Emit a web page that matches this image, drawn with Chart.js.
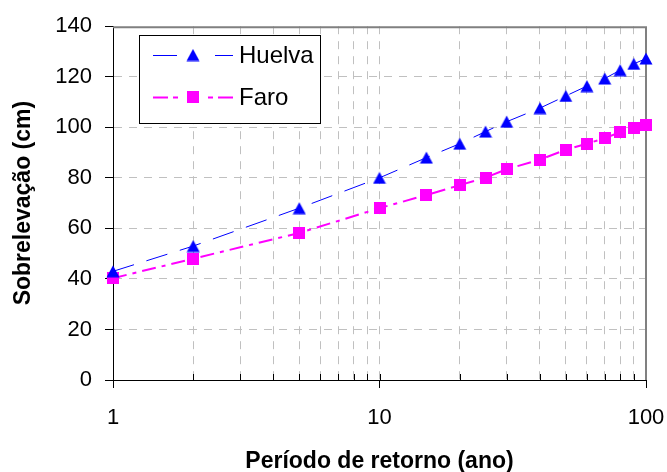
<!DOCTYPE html>
<html>
<head>
<meta charset="utf-8">
<script src="https://cdn.jsdelivr.net/npm/chart.js@4.4.0/dist/chart.umd.min.js"></script>
<style>
  html, body { margin: 0; padding: 0; background: #fff; }
  #wrap { width: 667px; height: 472px; }
</style>
</head>
<body>
<div id="wrap"><canvas id="chart" width="667" height="472"></canvas></div>
<script>
const returnPeriods = [1, 2, 5, 10, 15, 20, 25, 30, 40, 50, 60, 70, 80, 90, 100];
const huelva = [43, 53, 68, 80, 88, 93.5, 98.3, 102.2, 107.6, 112.4, 116.3, 119.3, 122.6, 125.1, 127.2];
const faro = [40.3, 48, 58.2, 68, 73.2, 77.1, 80.1, 83.4, 87.2, 91.1, 93.5, 95.7, 98, 99.7, 101];
const seriesNames = ['Huelva', 'Faro'];
const xGridValues = [1, 2, 3, 4, 5, 6, 7, 8, 9, 10, 20, 30, 40, 50, 60, 70, 80, 90, 100];
const xLabelValues = [1, 10, 100];
const xTitle = 'Período de retorno (ano)';
const yTitle = 'Sobrelevação (cm)';

const FONT = '"Liberation Sans", Arial, sans-serif';
Chart.defaults.font.family = FONT;
Chart.defaults.color = '#000';

// markers drawn like Excel: centered in their box
function makeTriangle(color) {
  const c = document.createElement('canvas');
  c.width = 14; c.height = 13;
  const g = c.getContext('2d');
  g.fillStyle = color;
  g.beginPath();
  g.moveTo(7, 0.5);
  g.lineTo(13.5, 12.5);
  g.lineTo(0.5, 12.5);
  g.closePath();
  g.fill();
  return c;
}
function makeSquare(color) {
  const c = document.createElement('canvas');
  c.width = 12; c.height = 12;
  const g = c.getContext('2d');
  g.fillStyle = color;
  g.fillRect(0, 0, 12, 12);
  return c;
}

const triangle = makeTriangle('#0000ff');
const square = makeSquare('#ff00ff');
const legendDash = [[24, 38], [15, 5, 5, 30, 5, 5]];

const toPoints = ys => ys.map((y, i) => ({ x: returnPeriods[i], y: y }));

const framePlugin = {
  id: 'frame',
  beforeDatasetsDraw(chart) {
    const { ctx, chartArea: a, scales } = chart;
    ctx.save();
    // minor ticks pointing inward on the x axis
    ctx.strokeStyle = '#000';
    ctx.lineWidth = 1;
    xGridValues.forEach(v => {
      if (v === 1) return;
      const px = Math.round(scales.x.getPixelForValue(v)) + 0.5;
      ctx.beginPath();
      ctx.moveTo(px, a.bottom);
      ctx.lineTo(px, a.bottom - 6);
      ctx.stroke();
    });
    // gray top and right border
    ctx.strokeStyle = '#808080';
    ctx.lineWidth = 2;
    ctx.beginPath();
    ctx.moveTo(a.left, a.top + 1);
    ctx.lineTo(a.right, a.top + 1);
    ctx.lineTo(a.right, a.bottom);
    ctx.stroke();
    ctx.restore();
  }
};

const legendPlugin = {
  id: 'boxLegend',
  afterDatasetsDraw(chart) {
    const ctx = chart.ctx;
    ctx.save();
    ctx.fillStyle = '#fff';
    ctx.strokeStyle = '#000';
    ctx.lineWidth = 1;
    ctx.fillRect(139.5, 35.5, 181, 88);
    ctx.strokeRect(139.5, 35.5, 181, 88);
    const rows = [55, 97];
    chart.data.datasets.forEach((ds, i) => {
      const y = rows[i] + 0.5;
      ctx.setLineDash(legendDash[i]);
      ctx.strokeStyle = ds.borderColor;
      ctx.lineWidth = ds.borderWidth;
      ctx.beginPath();
      ctx.moveTo(153, y);
      ctx.lineTo(233, y);
      ctx.stroke();
      ctx.setLineDash([]);
      const img = ds.pointStyle;
      ctx.drawImage(img, 193 - img.width / 2, rows[i] - img.height / 2);
      ctx.fillStyle = '#000';
      ctx.font = '24px ' + FONT;
      ctx.textAlign = 'left';
      ctx.textBaseline = 'middle';
      ctx.fillText(ds.label, 239, rows[i] + 1);
    });
    ctx.restore();
  }
};

new Chart(document.getElementById('chart'), {
  type: 'line',
  data: {
    datasets: [
      {
        label: seriesNames[0],
        data: toPoints(huelva),
        borderColor: '#0000ff',
        borderWidth: 1,
        borderDash: [22, 13],
        pointStyle: triangle,
        pointRadius: 7,
        tension: 0,
        clip: false
      },
      {
        label: seriesNames[1],
        data: toPoints(faro),
        borderColor: '#ff00ff',
        borderWidth: 2,
        borderDash: [14, 6, 4, 6],
        pointStyle: square,
        pointRadius: 6,
        tension: 0,
        clip: false
      }
    ]
  },
  options: {
    responsive: false,
    animation: false,
    devicePixelRatio: 1,
    layout: { padding: { top: 23, right: 21, bottom: 0, left: 0 } },
    plugins: { legend: { display: false }, tooltip: { enabled: false } },
    scales: {
      x: {
        type: 'logarithmic',
        min: 1,
        max: 100,
        afterBuildTicks: s => {
          s.ticks = xGridValues.map(v => ({ value: v, major: xLabelValues.includes(v) }));
        },
        afterFit: s => {
          s.height = 92;
          s.paddingLeft = 0;
          s.paddingRight = 0;
        },
        ticks: {
          autoSkip: false,
          maxRotation: 0,
          padding: 17,
          font: { size: 22 },
          callback: v => xLabelValues.includes(v) ? String(v) : ''
        },
        grid: {
          color: c => (c.tick && (c.tick.value === 1 || c.tick.value === 100)) ? 'rgba(0,0,0,0)' : '#c0c0c0',
          lineWidth: 1,
          tickLength: 8,
          tickColor: c => (c.tick && xLabelValues.includes(c.tick.value)) ? '#000' : 'rgba(0,0,0,0)'
        },
        border: { color: '#000', width: 1, dash: [8, 7] },
        title: {
          display: true,
          text: xTitle,
          font: { size: 23, weight: 'bold', lineHeight: 0.9 },
          padding: { top: 0, bottom: 0 }
        }
      },
      y: {
        min: 0,
        max: 140,
        afterFit: s => { s.width = 113; },
        ticks: { stepSize: 20, padding: 13, font: { size: 22 } },
        grid: {
          color: c => (c.tick && (c.tick.value === 0 || c.tick.value === 140)) ? 'rgba(0,0,0,0)' : '#c0c0c0',
          lineWidth: 1,
          tickLength: 8,
          tickColor: '#000'
        },
        border: { color: '#000', width: 1, dash: [8, 7] },
        title: {
          display: true,
          text: yTitle,
          font: { size: 23, weight: 'bold', lineHeight: 1 },
          padding: { top: 12, bottom: 0 }
        }
      }
    }
  },
  plugins: [framePlugin, legendPlugin]
});
</script>
</body>
</html>
